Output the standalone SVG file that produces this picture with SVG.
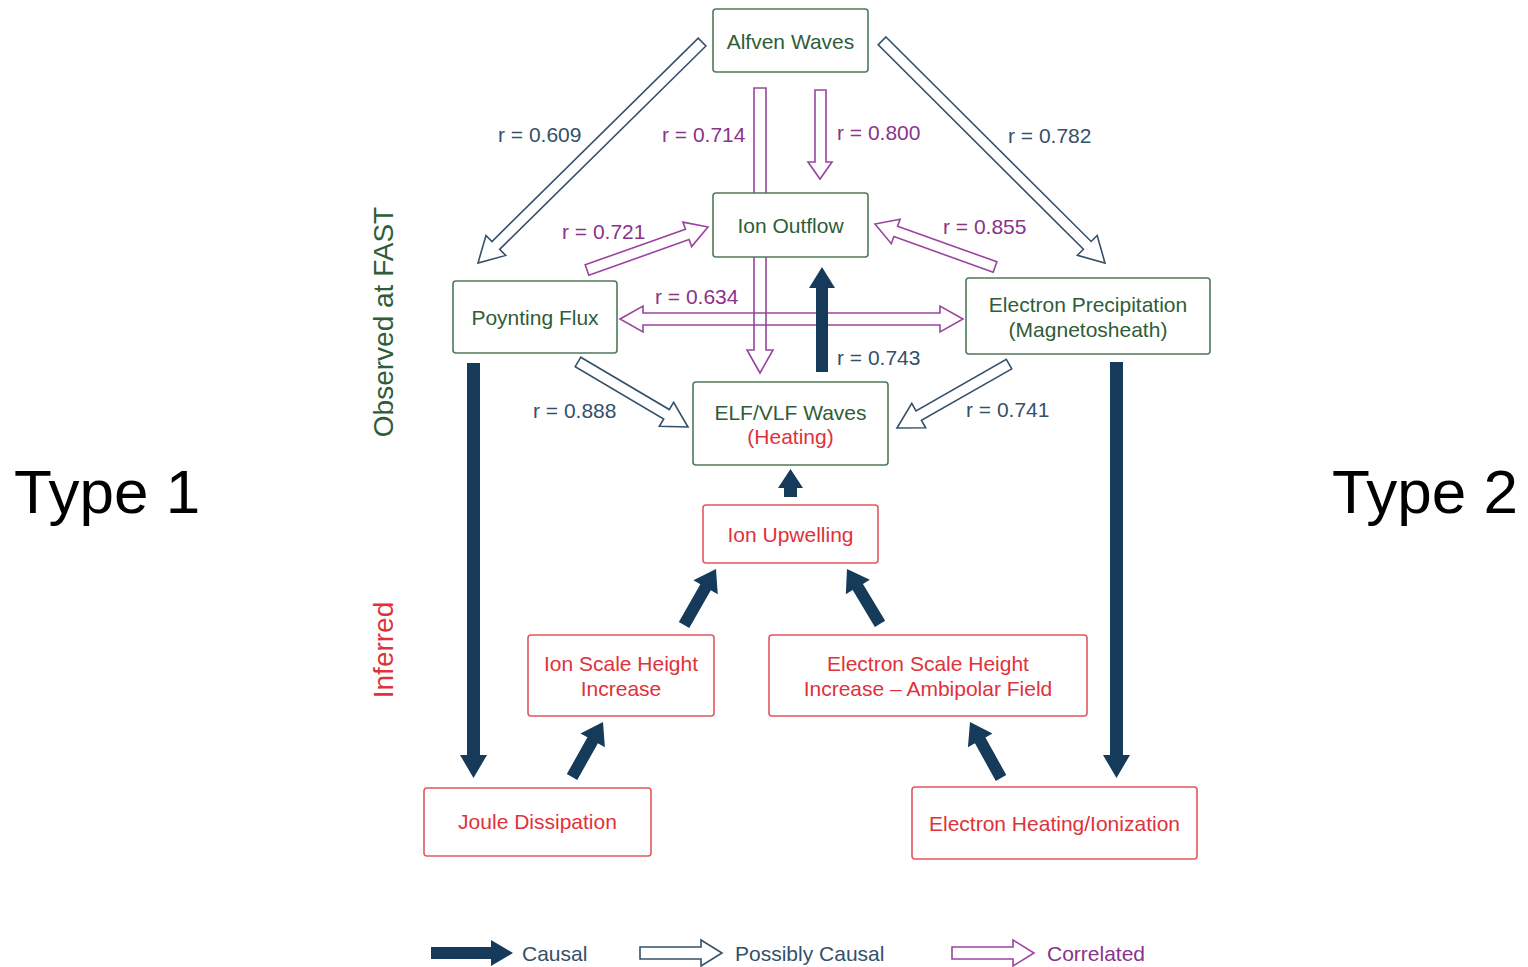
<svg xmlns="http://www.w3.org/2000/svg" width="1528" height="967" viewBox="0 0 1528 967">
<style>
text{font-family:"Liberation Sans",Arial,Helvetica,sans-serif;}
.g rect{fill:#fff;stroke:#4d7a58;stroke-width:1.6;}
.r rect{fill:#fff;stroke:#e2585c;stroke-width:1.6;}
.gt{fill:#2f5d37;font-size:21px;text-anchor:middle;}
.rt{fill:#e0323a;font-size:21px;text-anchor:middle;}
.lbn{fill:#34506a;font-size:21px;}
.lbp{fill:#8a338a;font-size:21px;}
.solid{fill:#163a5a;stroke:none;}
.hol{fill:none;stroke:#34506a;stroke-width:1.6;stroke-linejoin:miter;}
.cor{fill:none;stroke:#9a44a0;stroke-width:1.6;stroke-linejoin:miter;}
.side{font-size:28px;text-anchor:middle;}
.type{font-size:62px;fill:#000;}
</style>
<rect width="1528" height="967" fill="#fff"/>
<g id="connectors">
  <!-- possibly causal -->
  <polygon class="hol" transform="translate(478,263) rotate(135.4)" points="-314.7,-5.5 -25,-5.5 -25,-14 0,0 -25,14 -25,5.5 -314.7,5.5"/>
  <polygon class="hol" transform="translate(1105,263) rotate(44.9)" points="-314.7,-5.5 -25,-5.5 -25,-14 0,0 -25,14 -25,5.5 -314.7,5.5"/>
  <polygon class="hol" transform="translate(688,427) rotate(30.6)" points="-127.8,-5.5 -25,-5.5 -25,-14 0,0 -25,14 -25,5.5 -127.8,5.5"/>
  <polygon class="hol" transform="translate(897,428) rotate(150.3)" points="-129,-5.5 -25,-5.5 -25,-14 0,0 -25,14 -25,5.5 -129,5.5"/>
  <!-- correlated -->
  <polygon class="cor" points="754,88 766,88 766,350 773,350 760,373 747,350 754,350"/>
  <polygon class="cor" points="815,90 826,90 826,162 832,162 820,179 808,162 815,162"/>
  <polygon class="cor" transform="translate(708,227) rotate(-19.57)" points="-128.4,-5.5 -22,-5.5 -22,-13 0,0 -22,13 -22,5.5 -128.4,5.5"/>
  <polygon class="cor" transform="translate(875,224) rotate(199.7)" points="-127.5,-5.5 -22,-5.5 -22,-13 0,0 -22,13 -22,5.5 -127.5,5.5"/>
  <polygon class="cor" points="620,319 643,306 643,313 940,313 940,306 963,319 940,332 940,325 643,325 643,332"/>
  <!-- causal -->
  <polygon class="solid" points="816,372 816,288 809,288 822,267 835,288 828,288 828,372"/>
  <polygon class="solid" points="784,497 784,488 778,488 790.5,469 803,488 797,488 797,497"/>
  <polygon class="solid" points="467,363 480,363 480,755 487,755 473.5,778 460,755 467,755"/>
  <polygon class="solid" points="1110,362 1123,362 1123,755 1130,755 1116.5,778 1103,755 1110,755"/>
  <polygon class="solid" transform="translate(603,722) rotate(-60.6)" points="-63.1,-6 -21,-6 -21,-14 0,0 -21,14 -21,6 -63.1,6"/>
  <polygon class="solid" transform="translate(716,569) rotate(-60.3)" points="-64.5,-6 -21,-6 -21,-14 0,0 -21,14 -21,6 -64.5,6"/>
  <polygon class="solid" transform="translate(847,569) rotate(-121)" points="-64.1,-6 -21,-6 -21,-14 0,0 -21,14 -21,6 -64.1,6"/>
  <polygon class="solid" transform="translate(970,722) rotate(-119)" points="-64,-6 -21,-6 -21,-14 0,0 -21,14 -21,6 -64,6"/>
</g>
<g id="edge-labels">
  <text class="lbn" x="498" y="142">r = 0.609</text>
  <text class="lbp" x="662" y="142">r = 0.714</text>
  <text class="lbp" x="837" y="140">r = 0.800</text>
  <text class="lbn" x="1008" y="143">r = 0.782</text>
  <text class="lbp" x="562" y="239">r = 0.721</text>
  <text class="lbp" x="943" y="234">r = 0.855</text>
  <text class="lbp" x="655" y="304">r = 0.634</text>
  <text class="lbn" x="837" y="365">r = 0.743</text>
  <text class="lbn" x="533" y="418">r = 0.888</text>
  <text class="lbn" x="966" y="417">r = 0.741</text>
</g>
<g id="alfven" class="g"><rect x="713" y="9" width="155" height="63" rx="3"/><text class="gt" x="790.5" y="48.5">Alfven Waves</text></g>
<g id="ion-outflow" class="g"><rect x="713" y="193" width="155" height="64" rx="3"/><text class="gt" x="790.5" y="233">Ion Outflow</text></g>
<g id="poynting" class="g"><rect x="453" y="281" width="164" height="72" rx="3"/><text class="gt" x="535" y="325">Poynting Flux</text></g>
<g id="electron-precip" class="g"><rect x="966" y="278" width="244" height="76" rx="3"/><text class="gt" x="1088" y="312">Electron Precipitation</text><text class="gt" x="1088" y="337">(Magnetosheath)</text></g>
<g id="elf-vlf" class="g"><rect x="693" y="382" width="195" height="83" rx="3"/><text class="gt" x="790.5" y="420">ELF/VLF Waves</text><text class="rt" x="790.5" y="444">(Heating)</text></g>
<g id="ion-upwelling" class="r"><rect x="703" y="505" width="175" height="58" rx="3"/><text class="rt" x="790.5" y="542">Ion Upwelling</text></g>
<g id="ion-scale" class="r"><rect x="528" y="635" width="186" height="81" rx="3"/><text class="rt" x="621" y="671">Ion Scale Height</text><text class="rt" x="621" y="696">Increase</text></g>
<g id="electron-scale" class="r"><rect x="769" y="635" width="318" height="81" rx="3"/><text class="rt" x="928" y="671">Electron Scale Height</text><text class="rt" x="928" y="696">Increase – Ambipolar Field</text></g>
<g id="joule" class="r"><rect x="424" y="788" width="227" height="68" rx="3"/><text class="rt" x="537.5" y="829">Joule Dissipation</text></g>
<g id="electron-heating" class="r"><rect x="912" y="787" width="285" height="72" rx="3"/><text class="rt" x="1054.5" y="831">Electron Heating/Ionization</text></g>
<g id="side-labels">
  <text class="side" fill="#2f5d37" transform="translate(393,322) rotate(-90)">Observed at FAST</text>
  <text class="side" fill="#e0323a" transform="translate(393,650) rotate(-90)">Inferred</text>
  <text class="type" x="14" y="513">Type 1</text>
  <text class="type" x="1518" y="513" text-anchor="end">Type 2</text>
</g>
<g id="legend">
  <polygon class="solid" points="431,947 491,947 491,940 513,953 491,966 491,959 431,959"/>
  <text class="lbn" x="522" y="961">Causal</text>
  <polygon class="hol" points="640,947 701,947 701,940 722,953 701,966 701,959 640,959"/>
  <text class="lbn" x="735" y="961">Possibly Causal</text>
  <polygon class="cor" points="952,947 1013,947 1013,940 1034,953 1013,966 1013,959 952,959"/>
  <text class="lbp" x="1047" y="961">Correlated</text>
</g>
</svg>
